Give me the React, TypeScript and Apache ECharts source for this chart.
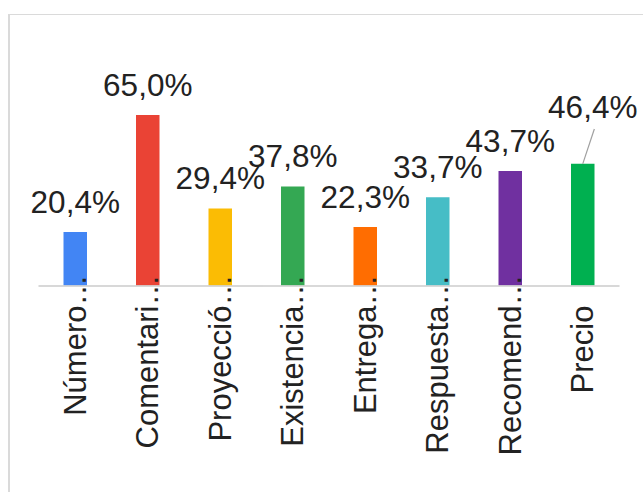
import React, { useEffect, useRef } from "react";
import * as echarts from "echarts";

const categories = [
  "Número…",
  "Comentari…",
  "Proyecció…",
  "Existencia…",
  "Entrega…",
  "Respuesta…",
  "Recomend…",
  "Precio",
];
const values = [20.4, 65.0, 29.4, 37.8, 22.3, 33.7, 43.7, 46.4];
const colors = [
  "#4285F4",
  "#EA4335",
  "#FBBC04",
  "#34A853",
  "#FF6D01",
  "#46BDC6",
  "#7030A0",
  "#00B050",
];
// leader line of the displaced last label: offset in category units / percent
const leaderIndex = 7;
const leaderOffset = [0.16, 13.3];

const FONT = "'Liberation Sans', Arial, sans-serif";

export default function App() {
  const ref = useRef<HTMLDivElement>(null);
  useEffect(() => {
    if (!ref.current) return;
    const chart = echarts.init(ref.current, undefined, { renderer: "svg" });
    const lv = values[leaderIndex];
    chart.setOption({
      animation: false,
      grid: { left: 29, right: 24, top: 87, bottom: 206.5 },
      xAxis: [
        {
          type: "category",
          z: 5,
          data: categories.map((c) =>
            c.endsWith("…")
              ? c
              : { value: c, textStyle: { padding: [0, 31, 0, 0] } }
          ),
          axisLine: { show: true, lineStyle: { color: "#cccccc", width: 1.5 } },
          axisTick: { show: false },
          axisLabel: {
            rotate: 90,
            interval: 0,
            margin: -11,
            fontSize: 31,
            fontFamily: FONT,
            color: "#222222",
          },
        },
        {
          type: "value",
          min: -0.5,
          max: categories.length - 0.5,
          show: false,
        },
      ],
      yAxis: {
        type: "value",
        min: 0,
        max: 70,
        show: false,
        splitLine: { show: false },
      },
      series: [
        {
          type: "bar",
          barWidth: 23.5,
          data: values.map((v, i) => ({
            value: v,
            itemStyle: { color: colors[i] },
          })),
          label: {
            show: true,
            position: "top",
            distance: 14,
            fontSize: 31.5,
            fontFamily: FONT,
            color: "#222222",
            formatter: (p: any) => p.value.toFixed(1).replace(".", ",") + "%",
          },
          labelLayout: (params: any) =>
            params.dataIndex === leaderIndex ? { dx: 10, dy: -27 } : {},
        },
        {
          type: "line",
          xAxisIndex: 1,
          symbol: "none",
          silent: true,
          z: 4,
          lineStyle: { color: "#a0a0a0", width: 1.2 },
          data: [
            [leaderIndex, lv],
            [leaderIndex + leaderOffset[0], lv + leaderOffset[1]],
          ],
        },
      ],
    });
    return () => chart.dispose();
  }, []);
  return (
    <div
      style={{
        position: "fixed",
        left: 8,
        top: 14,
        width: 635,
        height: 478,
        borderTop: "1px solid #dadada",
        borderLeft: "2px solid #dadada",
        background: "#fff",
      }}
    >
      <div ref={ref} style={{ width: 633, height: 477 }} />
    </div>
  );
}
